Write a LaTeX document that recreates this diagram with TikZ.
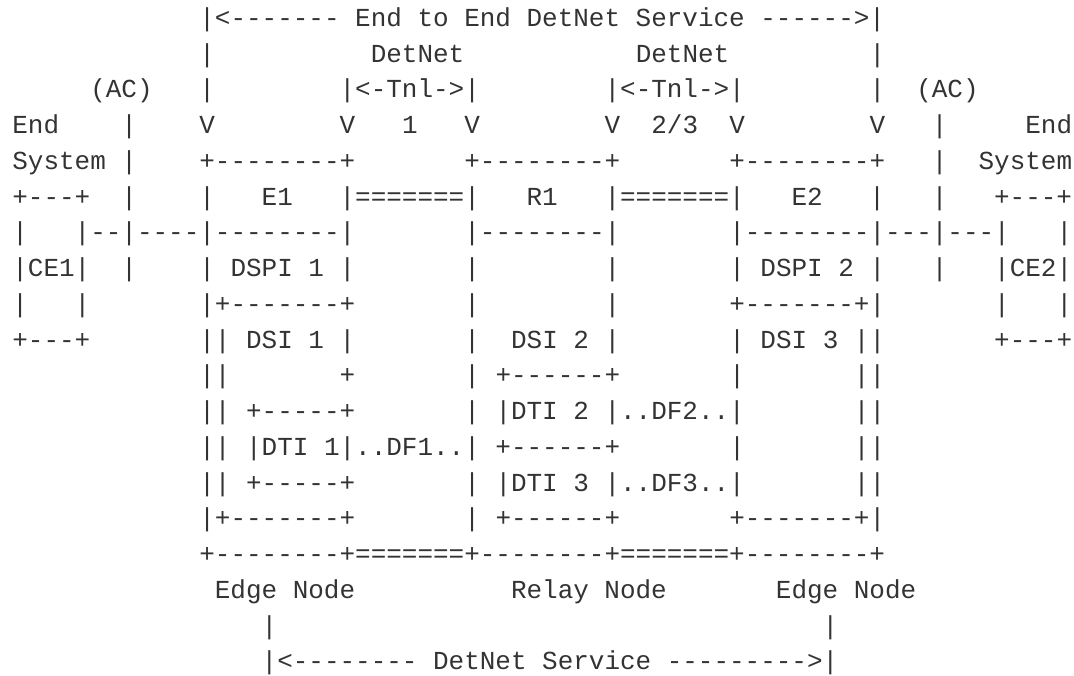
\documentclass[tikz,border=0pt]{standalone}
\usepackage{fontspec}
\setmonofont{Liberation Mono}
\usetikzlibrary{calc}
\definecolor{textgrau}{HTML}{333333}
\tikzset{zeile/.style={anchor=base west, inner sep=0pt, text=textgrau,
  font=\ttfamily\fontsize{25.97}{30}\selectfont\frenchspacing}}

\begin{document}
\begin{tikzpicture}[x=1pt,y=-1pt] % spalte=15.58, zeile=35.75
\useasboundingbox (0,0) rectangle (1074,675);

%ZEILE NR. 0 (von oben)
\node [zeile] (z0) at ($(199.2,26.3)$) {\obeyspaces|<------- End to End DetNet Service ------>|};

%ZEILE NR. 1 (von oben)
\node [zeile] (z1) at ($(199.2,62.05)$) {\obeyspaces|          DetNet           DetNet         |};

%ZEILE NR. 2 (von oben)
\node [zeile] (z2) at ($(90.1,97.8)$) {\obeyspaces(AC)   |        |<-Tnl->|        |<-Tnl->|        |  (AC)};

%ZEILE NR. 3 (von oben)
\node [zeile] (z3) at ($(12.2,133.55)$) {\obeyspaces{}End    |    V        V   1   V        V  2/3  V        V   |     End};

%ZEILE NR. 4 (von oben)
\node [zeile] (z4) at ($(12.2,169.3)$) {\obeyspaces{}System |    +--------+       +--------+       +--------+   |  System};

%ZEILE NR. 5 (von oben)
\node [zeile] (z5) at ($(12.2,205.05)$) {\obeyspaces+---+  |    |   E1   |=======|   R1   |=======|   E2   |   |   +---+};

%ZEILE NR. 6 (von oben)
\node [zeile] (z6) at ($(12.2,240.8)$) {\obeyspaces|   |--|----|--------|       |--------|       |--------|---|---|   |};

%ZEILE NR. 7 (von oben)
\node [zeile] (z7) at ($(12.2,276.55)$) {\obeyspaces|CE1|  |    | DSPI 1 |       |        |       | DSPI 2 |   |   |CE2|};

%ZEILE NR. 8 (von oben)
\node [zeile] (z8) at ($(12.2,312.3)$) {\obeyspaces|   |       |+-------+       |        |       +-------+|       |   |};

%ZEILE NR. 9 (von oben)
\node [zeile] (z9) at ($(12.2,348.05)$) {\obeyspaces+---+       || DSI 1 |       |  DSI 2 |       | DSI 3 ||       +---+};

%ZEILE NR. 10 (von oben)
\node [zeile] (z10) at ($(199.2,383.8)$) {\obeyspaces||       +       | +------+       |       ||};

%ZEILE NR. 11 (von oben)
\node [zeile] (z11) at ($(199.2,419.55)$) {\obeyspaces|| +-----+       | |DTI 2 |..DF2..|       ||};

%ZEILE NR. 12 (von oben)
\node [zeile] (z12) at ($(199.2,455.3)$) {\obeyspaces|| |DTI 1|..DF1..| +------+       |       ||};

%ZEILE NR. 13 (von oben)
\node [zeile] (z13) at ($(199.2,491.05)$) {\obeyspaces|| +-----+       | |DTI 3 |..DF3..|       ||};

%ZEILE NR. 14 (von oben)
\node [zeile] (z14) at ($(199.2,526.8)$) {\obeyspaces|+-------+       | +------+       +-------+|};

%ZEILE NR. 15 (von oben)
\node [zeile] (z15) at ($(199.2,562.55)$) {\obeyspaces+--------+=======+--------+=======+--------+};

%ZEILE NR. 16 (von oben)
\node [zeile] (z16) at ($(214.7,598.3)$) {\obeyspaces{}Edge Node          Relay Node       Edge Node};

%ZEILE NR. 17 (von oben)
\node [zeile] (z17) at ($(261.5,634.05)$) {\obeyspaces|                                   |};

%ZEILE NR. 18 (von oben)
\node [zeile] (z18) at ($(261.5,669.8)$) {\obeyspaces|<-------- DetNet Service --------->|};

\end{tikzpicture}
\end{document}
